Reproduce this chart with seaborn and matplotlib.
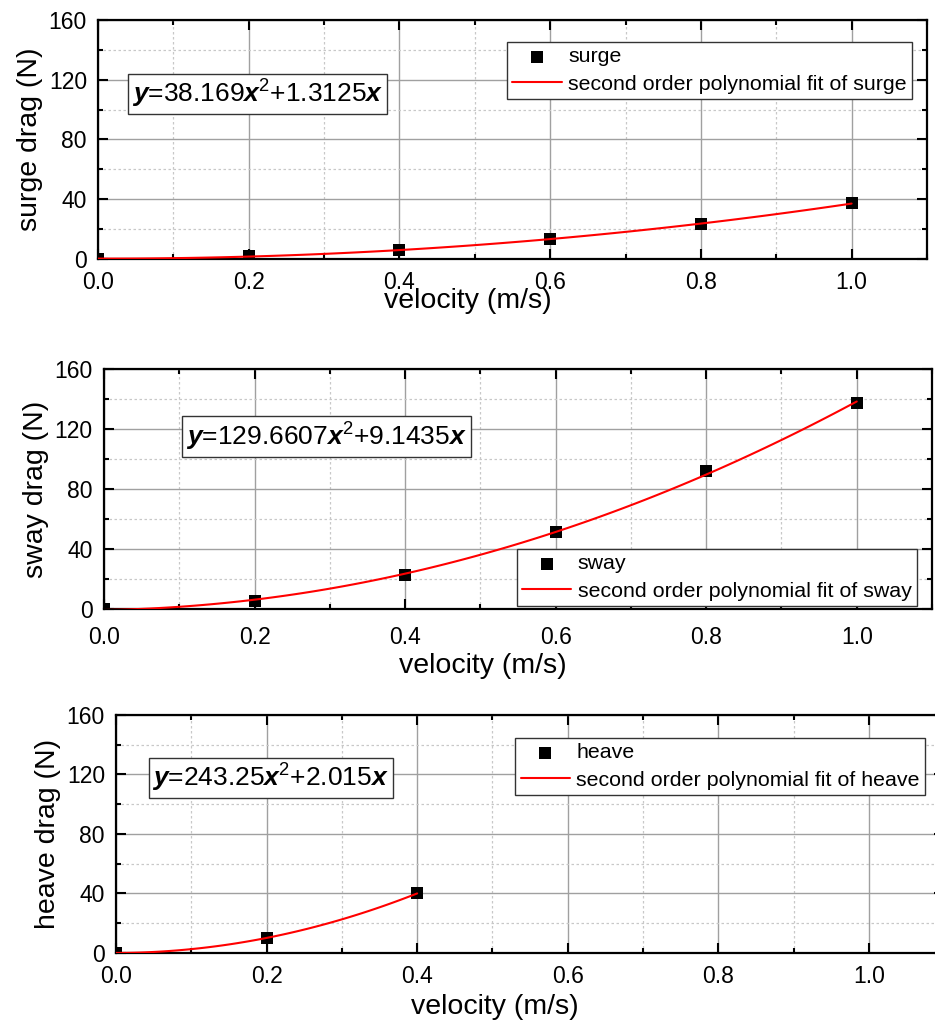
import numpy as np
import pandas as pd
import matplotlib
matplotlib.use("Agg")
import matplotlib.pyplot as plt
from matplotlib.ticker import MultipleLocator, FormatStrFormatter
import seaborn as sns

# drag data
velocity = [0.0, 0.2, 0.4, 0.6, 0.8, 1.0]
surge_drag = [0.0, 2.0, 6.0, 13.2, 23.4, 37.3]
sway_drag = [0.0, 5.6, 22.8, 51.1, 91.9, 137.2]
heave_velocity = [0.0, 0.2, 0.4]
heave_drag = [0.0, 10.1, 40.0]

names = ["surge", "sway", "heave"]
equations = [
    r"$\mathbfit{y}$=38.169$\mathbfit{x}^{2}$+1.3125$\mathbfit{x}$",
    r"$\mathbfit{y}$=129.6607$\mathbfit{x}^{2}$+9.1435$\mathbfit{x}$",
    r"$\mathbfit{y}$=243.25$\mathbfit{x}^{2}$+2.015$\mathbfit{x}$",
]

sns.set_style("white")
plt.rcParams["font.family"] = ["Liberation Sans", "DejaVu Sans"]
plt.rcParams["mathtext.fontset"] = "custom"
plt.rcParams["mathtext.rm"] = "Liberation Sans"
plt.rcParams["mathtext.it"] = "Liberation Sans:italic"
plt.rcParams["mathtext.bf"] = "Liberation Sans:bold"
plt.rcParams["mathtext.bfit"] = "Liberation Sans:italic:bold"
for key in ["text.color", "axes.labelcolor", "xtick.color", "ytick.color"]:
    plt.rcParams[key] = "black"

fig = plt.figure(figsize=(9.35, 10.26), dpi=100)

boxes = [
    [0.1048, 0.7476, 0.8866, 0.2329],
    [0.1112, 0.4064, 0.8856, 0.2339],
    [0.1241, 0.0712, 0.8856, 0.2320],
]
eq_pos = [(0.041, 0.692), (0.099, 0.719), (0.044, 0.735)]
xlabel_xy = [(0.446, -0.12), (0.458, -0.183), (0.458, -0.173)]
xtick_pad = [8.5, 12, 9]
leg_loc = ["upper right", "lower right", "upper right"]
leg_anchor = [(0.982, 0.908), (0.982, 0.0125), (0.977, 0.903)]

datasets = [
    (velocity, surge_drag),
    (velocity, sway_drag),
    (heave_velocity, heave_drag),
]

for i, (xs, ys) in enumerate(datasets):
    ax = fig.add_axes(boxes[i])
    df = pd.DataFrame({"velocity": xs, "drag": ys})

    sns.scatterplot(data=df, x="velocity", y="drag", marker="s", s=85,
                    color="black", edgecolor="black", linewidth=0,
                    label=names[i], ax=ax, zorder=3)
    sns.regplot(data=df, x="velocity", y="drag", order=2, ci=None,
                scatter=False, truncate=True, ax=ax,
                label="second order polynomial fit of " + names[i],
                line_kws=dict(color="red", lw=1.5, zorder=4))

    ax.set_xlim(0, 1.1)
    ax.set_ylim(0, 160)
    ax.xaxis.set_major_locator(MultipleLocator(0.2))
    ax.xaxis.set_minor_locator(MultipleLocator(0.1))
    ax.xaxis.set_major_formatter(FormatStrFormatter("%.1f"))
    ax.yaxis.set_major_locator(MultipleLocator(40))
    ax.yaxis.set_minor_locator(MultipleLocator(20))

    ax.grid(True, which="major", color="#a0a0a0", lw=1.0, ls="-")
    ax.grid(True, which="minor", color="#c8c8c8", lw=0.9, ls=(0, (2, 2)))
    ax.set_axisbelow(True)

    for sp in ax.spines.values():
        sp.set_visible(True)
        sp.set_color("black")
        sp.set_linewidth(1.6)
    ax.tick_params(which="both", direction="in", top=True, right=True,
                   bottom=True, left=True, width=1.5, color="black")
    ax.tick_params(which="major", length=7, labelsize=16.5)
    ax.tick_params(axis="x", which="major", pad=xtick_pad[i])
    ax.tick_params(axis="y", which="major", pad=8)
    ax.tick_params(which="minor", length=3.6)

    ax.set_xlabel("velocity (m/s)", fontsize=20.5)
    ax.xaxis.set_label_coords(*xlabel_xy[i])
    ax.set_ylabel(names[i] + " drag (N)", fontsize=20.5)

    ax.text(eq_pos[i][0], eq_pos[i][1], equations[i], transform=ax.transAxes,
            fontsize=19, ha="left", va="center", zorder=6,
            bbox=dict(boxstyle="square,pad=0.15", fc="white", ec="#333333", lw=1.0))

    leg = ax.legend(loc=leg_loc[i], bbox_to_anchor=leg_anchor[i], fontsize=15.4,
                    frameon=True, fancybox=False, framealpha=1, edgecolor="#333333",
                    borderpad=0.25, labelspacing=0.4, handlelength=2.3,
                    handletextpad=0.3, borderaxespad=0)
    leg.get_frame().set_linewidth(1.0)
    leg.set_zorder(7)

fig.savefig("out.png", dpi=100)
